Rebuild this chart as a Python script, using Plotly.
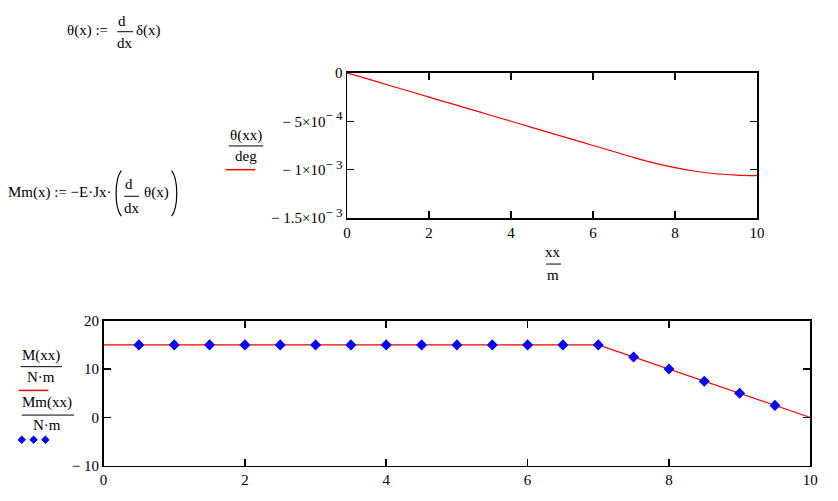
import plotly.graph_objects as go

W, H = 838, 501

# ---------------- data ----------------
theta_x = [0, 0.5, 1, 1.5, 2, 2.5, 3, 3.5, 4, 4.5, 5, 5.5, 6, 6.5, 7,
           7.5, 8, 8.5, 9, 9.5, 10]
theta_deg = [0, -0.0625e-3, -0.125e-3, -0.1875e-3, -0.25e-3, -0.3125e-3,
             -0.375e-3, -0.4375e-3, -0.5e-3, -0.5625e-3, -0.625e-3,
             -0.6875e-3, -0.75e-3, -0.8125e-3, -0.875e-3, -0.932e-3,
             -0.979e-3, -1.016e-3, -1.042e-3, -1.057e-3, -1.062e-3]

M_x = [0, 7, 10]
M_vals = [15, 15, 0]

Mm_x = [0.5, 1, 1.5, 2, 2.5, 3, 3.5, 4, 4.5, 5, 5.5, 6, 6.5, 7,
        7.5, 8, 8.5, 9, 9.5]
Mm_vals = [15, 15, 15, 15, 15, 15, 15, 15, 15, 15, 15, 15, 15, 15,
           12.5, 10, 7.5, 5, 2.5]

top_x_ticks = [0, 2, 4, 6, 8, 10]
top_y_ticks = [0, -5e-4, -1e-3, -1.5e-3]
SUP = "<sup><span style='font-size:13px'>{}</span></sup>"
top_y_text = ["0",
              "\u2212 5\u00d710" + SUP.format("\u2212 4"),
              "\u2212 1\u00d710" + SUP.format("\u2212 3"),
              "\u2212 1.5\u00d710" + SUP.format("\u2212 3")]
bot_x_ticks = [0, 2, 4, 6, 8, 10]
bot_y_ticks = [20, 10, 0, -10]
bot_y_text = ["20", "10", "0", "\u2212 10"]

# ---------------- helpers ----------------
FONT = "Liberation Serif, Times New Roman, serif"


def px(x):
    return x / W


def py(y):
    return 1 - y / H


annotations = []
shapes = []


def text(x, y, s, anchor="center", size=15, color="black"):
    annotations.append(dict(
        x=px(x), y=py(y), xref="paper", yref="paper", text=s,
        showarrow=False, xanchor=anchor, yanchor="middle",
        font=dict(family=FONT, size=size, color=color)))


def hline(x0, x1, y, color="black", width=1):
    shapes.append(dict(type="line", xref="paper", yref="paper",
                       x0=px(x0), x1=px(x1), y0=py(y), y1=py(y),
                       line=dict(color=color, width=width)))


def paren(x_out, x_in, y0, y1):
    path = "M {:.5f},{:.5f} C {:.5f},{:.5f} {:.5f},{:.5f} {:.5f},{:.5f}".format(
        px(x_out), py(y0), px(x_in), py(y0 + 9), px(x_in), py(y1 - 9),
        px(x_out), py(y1))
    shapes.append(dict(type="path", xref="paper", yref="paper", path=path,
                       line=dict(color="black", width=1.2)))


def diamond(cx, cy, r=3.8, color="#0000ff"):
    path = "M {:.5f},{:.5f} L {:.5f},{:.5f} L {:.5f},{:.5f} L {:.5f},{:.5f} Z".format(
        px(cx), py(cy - r), px(cx + r), py(cy), px(cx), py(cy + r),
        px(cx - r), py(cy))
    shapes.append(dict(type="path", xref="paper", yref="paper", path=path,
                       fillcolor=color, line=dict(color=color, width=1)))


# ---------------- figure ----------------
fig = go.Figure()
fig.add_trace(go.Scatter(x=theta_x, y=theta_deg, mode="lines",
                         line=dict(color="#ff0000", width=1.2, shape="spline"),
                         xaxis="x", yaxis="y", showlegend=False))
fig.add_trace(go.Scatter(x=M_x, y=M_vals, mode="lines",
                         line=dict(color="#ff0000", width=1.2),
                         xaxis="x2", yaxis="y2", showlegend=False))
fig.add_trace(go.Scatter(x=Mm_x, y=Mm_vals, mode="markers",
                         marker=dict(symbol="diamond", size=8.5, color="#0000ff"),
                         xaxis="x2", yaxis="y2", showlegend=False))

axis_common = dict(showline=True, linecolor="black", linewidth=1.5,
                   mirror="allticks", ticks="inside", ticklen=7,
                   tickcolor="black", tickwidth=1.5, showgrid=False,
                   zeroline=False, fixedrange=True,
                   tickfont=dict(family=FONT, size=15, color="black"))

fig.update_layout(
    width=W, height=H, autosize=False, margin=dict(l=0, r=0, t=0, b=0, pad=0),
    paper_bgcolor="white", plot_bgcolor="white", hovermode=False,
    xaxis=dict(domain=[px(348), px(764)], anchor="y", range=[0, 10],
               tickvals=top_x_ticks, **axis_common),
    yaxis=dict(domain=[py(217), py(67)], anchor="x", range=[-1.5e-3, 0],
               tickvals=top_y_ticks, ticktext=top_y_text, **axis_common),
    xaxis2=dict(domain=[px(101), px(818)], anchor="y2", range=[0, 10],
                tickvals=bot_x_ticks, **axis_common),
    yaxis2=dict(domain=[py(473), py(323)], anchor="x2", range=[-10, 20],
                tickvals=bot_y_ticks, ticktext=bot_y_text, **axis_common),
)

# formula 1: theta(x) := d/dx delta(x)
text(62, 23, "\u03b8(x) :=", anchor="left")
text(120, 13, "d")
hline(115, 131, 24.5)
text(122.5, 36, "dx")
text(132, 23, "\u03b4(x)", anchor="left")

# formula 2: Mm(x) := -E.Jx.(d/dx theta(x))
text(2, 191, "Mm(x) := \u2212E\u00b7Jx\u00b7", anchor="left")
paren(119, 112, 168, 215)
text(126.5, 182, "d")
hline(122, 137, 194.5)
text(129.5, 207, "dx")
text(140, 191, "\u03b8(x)", anchor="left")
paren(170, 177, 168, 215)

# top chart y label + legend line
text(246, 132, "\u03b8(xx)")
hline(228, 263, 142.5)
text(246, 153, "deg")
hline(225, 255, 167, color="#ff0000", width=1.5)

# top chart x label
text(557, 252, "xx")
hline(550, 565, 264.5)
text(557, 276, "m")

# bottom chart y labels + legend
text(38, 359, "M(xx)")
hline(17, 59, 370.5)
text(38, 381, "N\u00b7m")
hline(15, 45, 395, color="#ff0000", width=1.5)
text(44, 408, "Mm(xx)")
hline(18, 71, 420.5)
text(44, 431, "N\u00b7m")
for cx in (18, 30, 42):
    diamond(cx, 446)

fig.update_layout(annotations=annotations, shapes=shapes)
fig.write_html(
    "out.html",
    config={"displayModeBar": False, "staticPlot": True},
    post_script="document.body.style.margin='0';"
                "document.body.style.overflow='hidden';"
                "document.documentElement.style.overflow='hidden';")
